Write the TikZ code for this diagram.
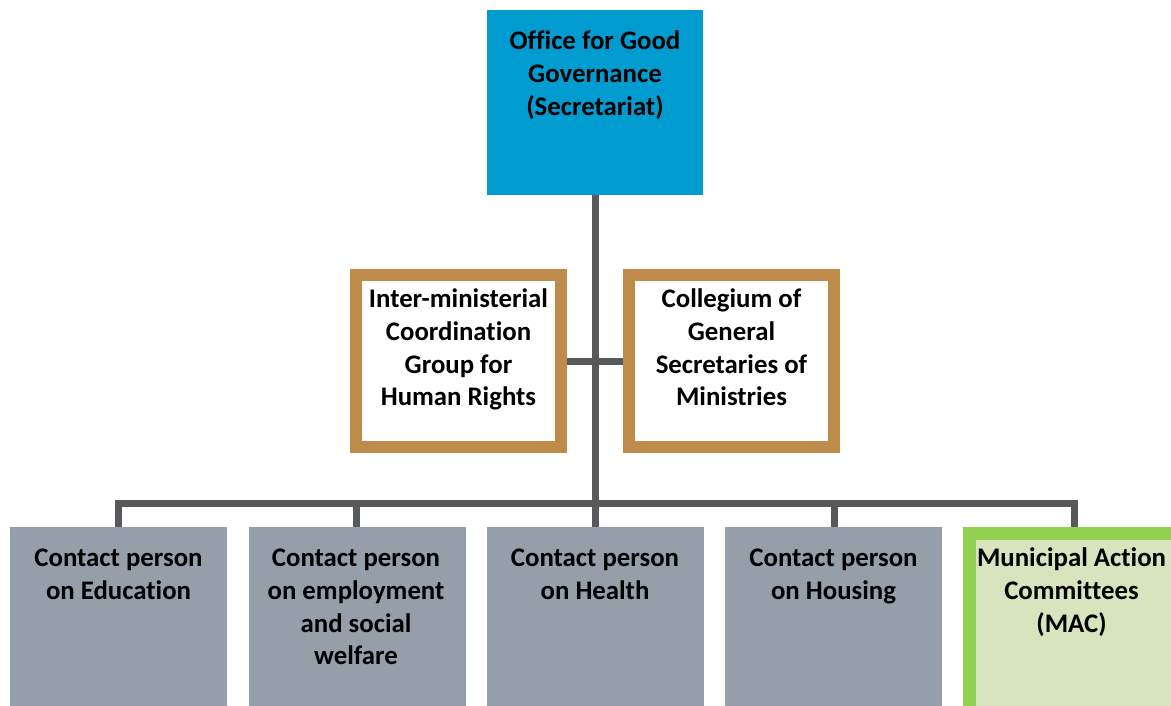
\documentclass[tikz,border=0pt]{standalone}
\usepackage{fontspec}
\setmainfont{Carlito}[Ligatures=NoCommon]
\definecolor{topblue}{RGB}{0,155,207}
\definecolor{gold}{RGB}{191,139,74}
\definecolor{boxgray}{RGB}{149,159,169}
\definecolor{mgreen}{RGB}{146,208,80}
\definecolor{mfill}{RGB}{215,228,189}
\definecolor{linegray}{RGB}{88,89,91}
\pgfdeclarelayer{background}
\pgfsetlayers{background,main}
\tikzset{
  topbox/.style={fill=topblue, draw=none, minimum width=216pt, minimum height=185pt, inner sep=0pt, outer sep=0pt},
  midbox/.style={fill=white, draw=gold, line width=12pt, minimum width=205pt, minimum height=172pt, inner sep=0pt, outer sep=0pt},
  graybox/.style={fill=boxgray, draw=none, minimum width=217pt, minimum height=185pt, inner sep=0pt, outer sep=0pt},
  macbox/.style={fill=mfill, draw=mgreen, line width=13pt, minimum width=211pt, minimum height=182pt, inner sep=0pt, outer sep=0pt},
  lbl/.style={anchor=north, inner sep=0pt, align=center, font=\fontsize{26.8}{32.6}\selectfont\bfseries, text=black},
  conn/.style={draw=linegray, line width=7pt}
}
\begin{document}
\begin{tikzpicture}[x=1pt,y=-1pt]
\useasboundingbox (0,0) rectangle (1171,706);
\clip (0,0) rectangle (1171,706);
% boxes
\node[topbox] (top) at (595,102.5) {};
\node[midbox] (ml) at (458.5,361) {};
\node[midbox] (mr) at (731.5,361) {};
\node[graybox] (b1) at (118.5,619.5) {};
\node[graybox] (b2) at (357.5,619.5) {};
\node[graybox] (b3) at (595.5,619.5) {};
\node[graybox] (b4) at (833.5,619.5) {};
\node[macbox] (b5) at (1075,624.5) {};
% junction coordinates
\coordinate (jm) at (595.5,361);
\coordinate (h1) at (118,503);
\coordinate (h2) at (356,503);
\coordinate (h4) at (834,503);
\coordinate (h5) at (1074,503);
% connectors (drawn below boxes)
\begin{pgfonlayer}{background}
\fill[white] (0,0) rectangle (1171,706);
\draw[conn] (top.south -| jm) -- (b3.north -| jm);
\draw[conn] (ml.east) -- (mr.west);
\draw[conn] ([xshift=-3.5pt]h1) -- ([xshift=3.5pt]h5);
\draw[conn] ([yshift=-3.5pt]h1) -- (b1.north -| h1);
\draw[conn] (h2) -- (b2.north -| h2);
\draw[conn] (h4) -- (b4.north -| h4);
\draw[conn] ([yshift=-3.5pt]h5) -- (b5.north -| h5);
\end{pgfonlayer}
% labels
\node[lbl] (ttop) at (595,26.8) {\strut Office for Good\\Governance\\(Secretariat)};
\node[lbl] (tml) at (458.5,284.8) {\strut Inter-ministerial\\Coordination\\Group for\\Human Rights};
\node[lbl] (tmr) at (731.5,284.8) {\strut Collegium of\\General\\Secretaries of\\Ministries};
\node[lbl] (t1) at (118.5,543.8) {\strut Contact person\\on Education};
\node[lbl] (t2) at (356,543.8) {\strut Contact person\\on employment\\and social\\welfare};
\node[lbl] (t3) at (595,543.8) {\strut Contact person\\on Health};
\node[lbl] (t4) at (833.5,543.8) {\strut Contact person\\on Housing};
\node[lbl] (t5) at (1071.5,543.8) {\strut Municipal Action\\Committees\\(MAC)};
\end{tikzpicture}
\end{document}
